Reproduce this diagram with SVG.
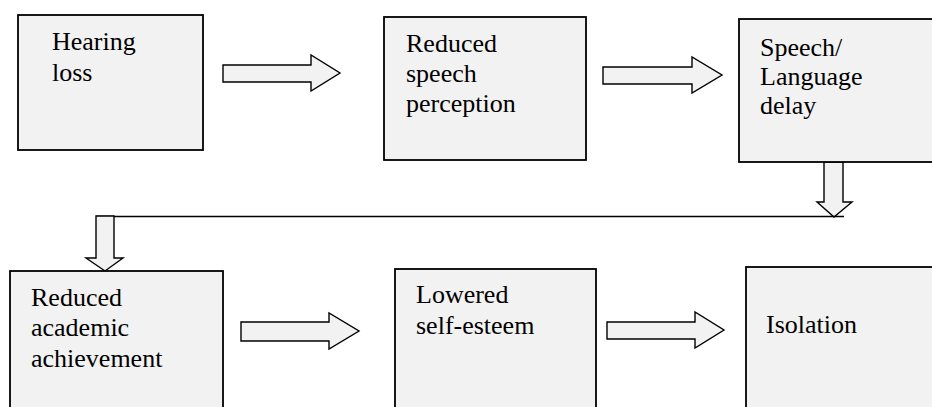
<svg xmlns="http://www.w3.org/2000/svg" width="932" height="407" viewBox="0 0 932 407">
<style>
.box{fill:#f2f2f2;stroke:#000;stroke-width:1.8}
.arr{fill:#f2f2f2;stroke:#000;stroke-width:1.4;stroke-linejoin:miter}
.ln{fill:none;stroke:#000;stroke-width:1.4}
.t{font-family:'Liberation Serif','Times New Roman',Times,'DejaVu Serif','Noto Serif',FreeSerif,Tinos,serif;font-size:26px;fill:#000}
</style>
<rect width="932" height="407" fill="#fff"/>
<g id="connectors">
<polygon class="arr" points="223,65 311,65 311,55 340,73 311,91 311,82 223,82"/>
<polygon class="arr" points="603,67 692,67 692,57 722,75 692,93 692,84 603,84"/>
<polygon class="arr" points="824,162 843,162 843,202 852,202 834,217 817,202 824,202"/>
<line class="ln" x1="96" y1="216.5" x2="844" y2="216.5"/>
<polygon class="arr" points="96,216 114,216 114,258 123,258 105,271 86,258 96,258"/>
<polygon class="arr" points="241,322 329,322 329,313 359,331 329,349 329,341 241,341"/>
<polygon class="arr" points="607,322 695,322 695,312 724,330 695,348 695,339 607,339"/>
</g>
<g id="hearing-loss">
<rect class="box" x="18" y="15" width="185" height="135"/>
<text class="t" x="52" y="50">Hearing</text>
<text class="t" x="52" y="81">loss</text>
</g>
<g id="reduced-speech-perception">
<rect class="box" x="384" y="17" width="202" height="143"/>
<text class="t" x="406" y="52">Reduced</text>
<text class="t" x="406" y="82">speech</text>
<text class="t" x="406" y="112">perception</text>
</g>
<g id="speech-language-delay">
<rect class="box" x="739" y="19" width="210" height="143"/>
<text class="t" x="760" y="56">Speech/</text>
<text class="t" x="760" y="85">Language</text>
<text class="t" x="760" y="114">delay</text>
</g>
<g id="reduced-academic-achievement">
<rect class="box" x="10" y="271" width="213" height="150"/>
<text class="t" x="31" y="306">Reduced</text>
<text class="t" x="31" y="336">academic</text>
<text class="t" x="31" y="367">achievement</text>
</g>
<g id="lowered-self-esteem">
<rect class="box" x="395" y="269" width="201" height="150"/>
<text class="t" x="416" y="303">Lowered</text>
<text class="t" x="416" y="334">self-esteem</text>
</g>
<g id="isolation">
<rect class="box" x="746" y="267" width="210" height="150"/>
<text class="t" x="766" y="333">Isolation</text>
</g>
</svg>
